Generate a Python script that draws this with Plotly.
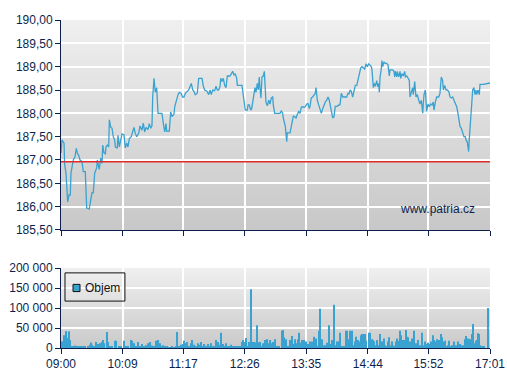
import plotly.graph_objects as go

# ---------------- data ----------------
# minutes after 09:00 and price (CZK)
price_t = [0, 1.1, 3.4, 4.1, 5.6, 6.4, 7.5, 9.0, 10.4, 11.2, 12.7, 13.8, 15.7, 17.2, 18.3, 19.8, 21.3, 23.5, 25.0, 27.2,
           28.8, 31.7, 33.3, 34.8, 36.2, 37.8, 40.0, 40.7, 42.9, 44.5, 46.0, 46.8, 48.2, 49.7, 50.5, 51.9, 53.5, 54.2,
           55.7, 57.2, 58.6, 60.2, 60.9, 63.1, 63.9, 65.4, 68.4, 70.6, 72.1, 73.7, 75.1, 76.6, 78.8, 80.4, 81.8, 83.3,
           84.9, 87.1, 88.6, 90.8, 92.3, 93.8, 95.3, 97.5, 99.0, 100.6, 102.0, 102.8, 104.3, 105.7, 107.3, 108.8, 113.2,
           114.7, 116.3, 117.7, 118.5, 121.4, 123.0, 124.5, 126.7, 127.5, 129.7, 131.2, 132.6, 134.9, 136.4, 137.9,
           139.4, 141.6, 143.2, 144.6, 146.1, 147.7, 149.1, 150.6, 152.8, 154.4, 158.1, 159.6, 161.1, 163.4, 165.6,
           167.1, 168.5, 170.1, 172.3, 173.8, 175.2, 176.8, 178.3, 179.1, 180.5, 182.0, 183.5, 185.0, 186.5, 189.5,
           190.9, 192.5, 194.0, 195.4, 197.0, 197.7, 202.9, 204.4, 206.6, 208.9, 209.7, 211.1, 212.7, 213.8, 215.6,
           217.5, 218.6, 220.1, 221.2, 222.3, 223.1, 224.2, 225.4, 226.8, 228.0, 229.1, 229.8, 231.3, 232.9, 234.3,
           235.8, 237.4, 238.0, 239.6, 245.5, 247.0, 248.6, 249.2, 250.8, 251.5, 253.1, 253.7, 256.8, 258.2, 259.8,
           260.5, 262.0, 263.5, 265.0, 266.5, 268.0, 269.4, 271.0, 272.5, 273.9, 275.5, 276.9, 278.4, 279.2, 280.6,
           282.2, 283.7, 285.1, 285.9, 287.4, 288.9, 290.4, 291.9, 293.4, 294.9, 296.3, 297.9, 299.4, 300.8, 301.6,
           303.1, 304.6, 306.1, 307.5, 309.8, 311.4, 312.8, 314.3, 315.9, 320.3, 321.8, 323.2, 324.0, 325.5, 327.0,
           328.5, 330.0, 331.6, 333.0, 334.5, 336.0, 337.5, 339.0, 340.5, 342.0, 343.4, 345.0, 346.5, 347.9, 348.7,
           349.5, 350.2, 351.3, 352.4, 354.0, 355.1, 356.2, 356.9, 357.7, 358.8, 359.9, 360.7, 362.1, 363.6, 365.2,
           366.6, 368.1, 368.9, 370.3, 371.9, 373.4, 374.1, 374.8, 376.4, 377.0, 378.6, 380.1, 380.9, 382.3, 383.8,
           385.4, 386.1, 387.6, 389.1, 390.5, 391.3, 392.8, 394.3, 395.0, 396.6, 398.0, 399.5, 401.1, 402.5, 404.0,
           405.6, 406.2, 407.0, 408.5, 409.3, 410.0, 411.5, 412.9, 414.5, 416.0, 417.4, 418.2, 419.7, 421.2, 423.5,
           424.9, 426.4, 427.9, 428.7, 430.2, 431.7, 433.1, 434.7, 436.2, 437.6, 439.2, 440.6, 442.1, 443.7, 445.1,
           446.6, 447.4, 448.8, 450.4, 451.8, 453.3, 454.1, 455.5, 456.3, 457.1, 457.7, 459.3, 460.8, 461.6, 463.0,
           464.2, 465.3, 466.1, 467.5, 469.0, 469.8, 473.5, 477.3, 481.0]
price_v = [187.15, 187.43, 187.36, 186.90, 186.72, 186.36, 186.10, 186.25, 186.25, 186.72, 186.85, 187.00, 187.07,
           187.25, 187.15, 187.10, 187.00, 186.97, 186.75, 186.75, 185.97, 185.95, 186.14, 186.30, 186.30, 186.72,
           186.83, 187.00, 186.80, 187.04, 186.93, 187.32, 187.15, 187.13, 187.28, 187.32, 187.28, 187.86, 187.71,
           187.68, 187.50, 187.43, 187.28, 187.25, 187.53, 187.28, 187.56, 187.54, 187.26, 187.36, 187.28, 187.46,
           187.50, 187.62, 187.70, 187.57, 187.50, 187.57, 187.73, 187.64, 187.79, 187.60, 187.70, 187.65, 187.78,
           187.68, 187.73, 188.35, 188.75, 188.45, 188.55, 188.00, 188.00, 187.79, 187.60, 187.78, 187.62, 187.62,
           188.03, 187.93, 187.98, 188.14, 188.33, 188.40, 188.45, 188.42, 188.35, 188.35, 188.43, 188.48, 188.50,
           188.57, 188.64, 188.50, 188.47, 188.40, 188.43, 188.75, 188.75, 188.58, 188.50, 188.48, 188.40, 188.50,
           188.40, 188.50, 188.48, 188.58, 188.50, 188.50, 188.58, 188.75, 188.68, 188.75, 188.60, 188.55, 188.80,
           188.80, 188.85, 188.90, 188.82, 188.85, 188.75, 188.60, 188.60, 188.35, 188.07, 188.07, 188.18, 188.18,
           188.07, 188.10, 188.35, 188.55, 188.45, 188.64, 188.50, 188.78, 188.55, 188.33, 188.78, 188.80, 188.90,
           188.58, 188.24, 188.16, 188.28, 188.20, 188.33, 188.35, 188.18, 188.00, 188.00, 188.05, 188.00, 187.90,
           187.80, 187.72, 187.39, 187.58, 187.58, 187.72, 187.80, 187.94, 187.93, 187.90, 187.98, 188.04, 188.00,
           188.13, 188.14, 188.13, 188.14, 188.20, 188.21, 188.10, 188.15, 188.33, 188.35, 188.40, 188.43, 188.55,
           188.28, 188.18, 188.08, 188.00, 188.10, 188.20, 188.24, 188.28, 188.35, 188.28, 188.20, 188.07, 187.90,
           187.93, 188.15, 188.15, 188.18, 188.18, 188.43, 188.35, 188.35, 188.43, 188.42, 188.50, 188.47, 188.35,
           188.50, 188.60, 188.60, 188.71, 188.86, 188.97, 189.00, 188.97, 188.95, 189.06, 189.00, 189.06, 189.02,
           189.00, 188.93, 188.72, 188.55, 188.64, 188.58, 188.70, 188.57, 188.64, 188.45, 188.78, 188.90, 189.13,
           189.00, 189.10, 189.07, 189.07, 189.04, 188.80, 188.93, 188.93, 188.93, 188.90, 188.78, 188.90, 188.78,
           188.90, 188.78, 188.90, 188.75, 188.85, 188.80, 188.90, 188.78, 188.80, 188.75, 188.71, 188.35, 188.43,
           188.55, 188.40, 188.68, 188.35, 188.40, 188.28, 188.20, 188.28, 188.00, 188.20, 188.40, 188.50, 188.28,
           188.04, 188.20, 188.14, 188.20, 188.18, 188.24, 188.07, 188.24, 188.35, 188.35, 188.43, 188.78, 188.70,
           188.50, 188.60, 188.50, 188.50, 188.47, 188.35, 188.33, 188.35, 188.28, 188.20, 188.14, 188.00, 187.82,
           187.72, 187.68, 187.60, 187.50, 187.50, 187.43, 187.39, 187.25, 187.18, 187.43, 188.00, 188.28, 188.50,
           188.55, 188.40, 188.50, 188.40, 188.50, 188.40, 188.62, 188.62, 188.64, 188.65]

prev_close = 186.96

# minutes after 09:00 and traded volume (pcs)
vol_t = [1.1, 3.4, 4.5, 6.2, 7.8, 9.0, 10.1, 11.8, 13.5, 15.7, 17.9, 20.2, 22.4, 24.7, 26.9, 30.3, 32.5, 33.6, 34.8,
         37.0, 39.2, 40.9, 42.6, 44.3, 46.0, 47.1, 48.8, 51.2, 52.7, 54.9, 57.2, 60.5, 62.2, 65.0, 67.3, 70.6, 72.9,
         75.1, 78.5, 80.2, 81.8, 84.1, 86.3, 88.6, 90.8, 93.1, 95.3, 97.5, 98.7, 100.3, 102.0, 104.3, 106.5, 107.6,
         109.3, 111.0, 112.7, 114.4, 116.6, 118.8, 120.5, 122.2, 124.5, 126.7, 128.9, 130.4, 132.3, 134.5, 136.8,
         137.9, 139.6, 141.3, 143.5, 145.8, 147.4, 149.1, 151.4, 153.6, 155.3, 157.0, 159.2, 160.9, 162.6, 164.8,
         167.1, 168.7, 170.4, 172.7, 174.3, 176.0, 177.7, 179.7, 181.6, 183.3, 185.0, 187.2, 188.9, 190.6, 192.8,
         195.1, 197.3, 199.0, 200.7, 202.9, 204.6, 205.7, 207.4, 209.7, 211.3, 213.4, 214.7, 216.4, 218.1, 219.8,
         221.4, 223.1, 224.8, 226.5, 228.7, 229.8, 231.5, 233.2, 234.9, 236.6, 238.3, 239.9, 242.2, 244.4, 247.8,
         248.9, 250.0, 252.3, 254.5, 257.3, 259.0, 260.5, 262.4, 264.3, 265.4, 266.8, 268.0, 269.9, 272.1, 274.7,
         277.3, 279.2, 281.8, 284.0, 285.6, 287.8, 289.3, 290.7, 292.3, 294.1, 296.0, 298.2, 300.5, 301.9, 303.5,
         305.3, 306.4, 308.0, 309.4, 310.9, 313.2, 314.7, 317.0, 319.2, 320.7, 322.1, 324.4, 325.9, 327.4, 329.6,
         331.1, 332.7, 334.9, 336.4, 337.8, 339.4, 340.8, 342.3, 345.3, 346.8, 348.4, 349.8, 351.3, 352.8, 354.3,
         355.8, 357.3, 358.8, 360.3, 361.8, 363.3, 364.7, 366.3, 367.8, 369.2, 370.8, 372.2, 373.7, 375.3, 376.7,
         378.2, 379.8, 381.2, 382.7, 384.2, 386.5, 388.0, 389.4, 391.0, 392.4, 393.9, 396.1, 397.7, 399.1, 400.6,
         402.2, 403.6, 405.1, 406.7, 408.1, 410.4, 411.8, 413.4, 414.8, 417.1, 418.5, 420.1, 421.6, 423.0, 424.6,
         426.1, 427.5, 429.1, 430.5, 432.0, 433.6, 435.0, 436.5, 438.1, 440.3, 441.8, 444.0, 445.5, 447.0, 449.3,
         451.5, 453.0, 454.4, 456.0, 457.5, 458.9, 460.5, 461.9, 463.4, 464.9, 466.4, 467.9, 468.7, 470.1, 472.0,
         474.3, 479.1]
vol_k = [17, 32, 20, 42, 25, 42, 20, 5, 3, 6, 3, 3, 3, 3, 3, 4, 8, 14, 8, 5, 15, 10, 10, 12, 15, 20, 12, 40, 15, 5,
         3, 18, 18, 5, 3, 18, 5, 3, 20, 18, 12, 5, 15, 5, 10, 3, 7, 12, 5, 15, 6, 3, 18, 15, 20, 12, 5, 7, 3, 5, 2, 2,
         5, 2, 5, 40, 5, 8, 10, 18, 12, 15, 3, 12, 20, 8, 5, 12, 8, 15, 5, 10, 3, 10, 5, 12, 5, 3, 20, 15, 8, 38, 10,
         5, 12, 5, 3, 8, 3, 5, 3, 5, 5, 15, 20, 15, 25, 5, 15, 147, 15, 15, 14, 57, 14, 15, 5, 12, 20, 15, 22, 12, 20,
         12, 15, 22, 5, 3, 43, 45, 27, 22, 3, 20, 30, 10, 22, 12, 22, 38, 13, 20, 20, 16, 10, 16, 16, 28, 24, 3, 43,
         98, 22, 7, 7, 13, 57, 10, 20, 7, 108, 7, 16, 16, 38, 5, 5, 43, 43, 22, 43, 43, 7, 16, 28, 20, 16, 32, 35, 35,
         35, 18, 38, 38, 22, 20, 16, 7, 20, 7, 35, 7, 16, 24, 7, 5, 16, 27, 7, 16, 7, 5, 16, 24, 18, 43, 32, 20, 20,
         45, 28, 27, 16, 7, 24, 43, 12, 7, 20, 7, 5, 38, 7, 16, 10, 13, 10, 16, 32, 20, 16, 22, 20, 20, 35, 27, 16,
         18, 5, 7, 18, 5, 7, 16, 7, 7, 16, 10, 7, 7, 22, 30, 24, 22, 22, 35, 60, 12, 18, 20, 37, 35, 7, 3, 3, 100]
volume = [v * 1000 for v in vol_k]

x_tick_vals = [0, 69, 137, 206, 275, 344, 412, 481]
x_tick_text = ["09:00", "10:09", "11:17", "12:26", "13:35", "14:44", "15:52", "17:01"]
price_ticks = [185.5, 186.0, 186.5, 187.0, 187.5, 188.0, 188.5, 189.0, 189.5, 190.0]
price_tick_text = ["185,50", "186,00", "186,50", "187,00", "187,50", "188,00", "188,50", "189,00", "189,50", "190,00"]
vol_ticks = [0, 50000, 100000, 150000, 200000]
vol_tick_text = ["0", "50 000", "100 000", "150 000", "200 000"]
legend_label = "Objem"
watermark = "www.patria.cz"

# ---------------- styling ----------------
LINE = "#3aa2d0"
AXIS = "#0c1f4d"
FONT = "Liberation Sans, Arial, sans-serif"

fig = go.Figure()

fig.add_trace(go.Scatter(x=price_t, y=price_v, mode="lines", line=dict(color=LINE, width=1.3),
                         xaxis="x", yaxis="y", showlegend=False, hoverinfo="skip"))
fig.add_trace(go.Scatter(x=[0, 481], y=[prev_close, prev_close], mode="lines",
                         line=dict(color="#e02a2a", width=1.5), xaxis="x", yaxis="y",
                         showlegend=False, hoverinfo="skip"))
fig.add_trace(go.Bar(x=vol_t, y=volume, width=1.3, marker=dict(color=LINE, line=dict(width=0)),
                     xaxis="x2", yaxis="y2", showlegend=False, hoverinfo="skip"))

# gradient backgrounds
shapes = []
N = 40
def grad(xr, yr, top, bot):
    for i in range(N):
        f = i / (N - 1)
        c = [int(round(top[k] + (bot[k] - top[k]) * f)) for k in range(3)]
        y1 = 1 - i / N
        y0 = max(0, 1 - (i + 1) / N - 0.02)
        shapes.append(dict(type="rect", xref=xr, yref=yr, x0=0, x1=1,
                           y0=y0, y1=y1, layer="below",
                           fillcolor="rgb(%d,%d,%d)" % tuple(c), line=dict(width=0)))
grad("x domain", "y domain", (239, 239, 239), (200, 200, 200))
grad("x2 domain", "y2 domain", (239, 239, 239), (202, 202, 202))

# manual legend box
shapes.append(dict(type="rect", xref="paper", yref="paper", x0=0.0093, x1=0.149, y0=0.143, y1=0.229,
                   line=dict(color="#111111", width=1), fillcolor="rgba(0,0,0,0)", layer="above"))
shapes.append(dict(type="rect", xref="paper", yref="paper", x0=0.028, x1=0.0443, y0=0.172, y1=0.194,
                   line=dict(color="#111111", width=1), fillcolor=LINE, layer="above"))

axis_common = dict(showline=True, linecolor=AXIS, linewidth=1, ticks="outside", ticklen=5,
                   tickcolor=AXIS, gridcolor="white", gridwidth=1.5, zeroline=False, automargin=False,
                   tickfont=dict(family=FONT, size=12, color=AXIS))

fig.update_layout(
    width=507, height=380,
    margin=dict(l=61, r=17, t=20, b=32),
    paper_bgcolor="white", plot_bgcolor="rgba(0,0,0,0)",
    shapes=shapes,
    showlegend=False,
    xaxis=dict(domain=[0, 1], range=[0, 481], tickvals=x_tick_vals, showticklabels=False,
               anchor="y", **axis_common),
    yaxis=dict(domain=[0.3598, 1], range=[185.5, 190], tickvals=price_ticks, ticktext=price_tick_text,
               anchor="x", **axis_common),
    xaxis2=dict(domain=[0, 1], range=[0, 481], tickvals=x_tick_vals, ticktext=x_tick_text,
                anchor="y2", **axis_common),
    yaxis2=dict(domain=[0, 0.2439], range=[0, 200000], tickvals=vol_ticks, ticktext=vol_tick_text,
                anchor="x2", **axis_common),
    annotations=[
        dict(text=watermark, xref="paper", yref="paper", x=0.97, y=0.395,
             xanchor="right", yanchor="bottom", showarrow=False,
             font=dict(family=FONT, size=12, color=AXIS)),
        dict(text=legend_label, xref="paper", yref="paper", x=0.052, y=0.183,
             xanchor="left", yanchor="middle", showarrow=False,
             font=dict(family=FONT, size=12, color="#111111")),
    ],
)

fig.write_html("out.html", config={"displayModeBar": False},
               post_script="document.body.style.margin='0';document.body.style.padding='0';")
